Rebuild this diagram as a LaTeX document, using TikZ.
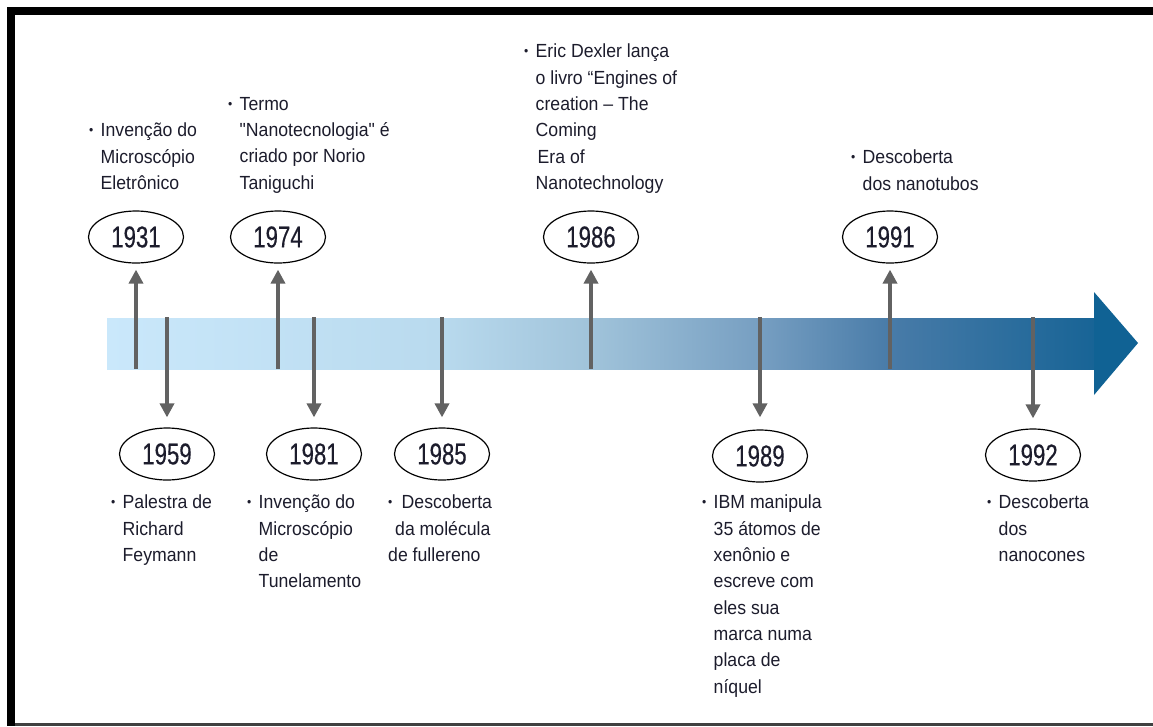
\documentclass[tikz,border=0pt]{standalone}
\usepackage{fontspec}
\setmainfont{Liberation Sans}
\newfontfamily\evtfont[FakeStretch=0.93]{Liberation Sans}
\newfontfamily\yrfont[FakeStretch=0.74,FakeBold=0.4]{Liberation Sans}
\usetikzlibrary{arrows.meta,shapes.geometric}
\definecolor{bandA}{RGB}{202,232,251}
\definecolor{bandB}{RGB}{185,218,238}
\definecolor{bandC}{RGB}{160,195,218}
\definecolor{bandD}{RGB}{118,158,193}
\definecolor{bandE}{RGB}{72,123,168}
\definecolor{bandF}{RGB}{24,100,150}
\definecolor{headblue}{RGB}{16,98,148}
\definecolor{arrgray}{RGB}{98,98,98}
\definecolor{txtdark}{RGB}{28,28,44}
\pgfdeclarehorizontalshading{bandshade}{100bp}{color(0bp)=(bandA); color(25bp)=(bandA); color(41.8bp)=(bandB); color(49.6bp)=(bandC); color(58.2bp)=(bandD); color(64.7bp)=(bandE); color(75bp)=(bandF); color(100bp)=(bandF)}
\newcommand{\bul}{\makebox[11.5pt][l]{\raisebox{2pt}{\fontsize{13}{13}\selectfont\textbullet}}}
\newcommand{\ind}{\hspace*{11.5pt}}

\begin{document}
\begin{tikzpicture}[x=1pt,y=-1pt,yr/.style={draw,ellipse,line width=1.2pt,minimum width=95pt,minimum height=52pt,inner sep=0pt,font=\yrfont\fontsize{30}{30}\selectfont,text=txtdark},evt/.style={anchor=north west,align=left,inner sep=0pt,font=\evtfont\fontsize{19}{26.3}\selectfont,text=txtdark},arr/.style={-{Triangle[width=14pt,length=14pt]},line width=3.5pt,arrgray}]
\useasboundingbox (0,0) rectangle (1153,726);
% frame
\fill[black] (7,7) rectangle (1153,15);
\fill[black] (7,7) rectangle (15,726);
\fill[black!75] (15,723) rectangle (1153,726);
% time band
\shade[shading=bandshade] (107,318) rectangle (1094,369);
\fill[headblue] (1094,292) -- (1138,343) -- (1094,395) -- cycle;
% years above
\node[yr] (y1931) at (136,237) {1931};
\node[yr] (y1974) at (278,237) {1974};
\node[yr] (y1986) at (591,237) {1986};
\node[yr] (y1991) at (890,237) {1991};
% years below
\node[yr] (y1959) at (167,454) {1959};
\node[yr] (y1981) at (314,454) {1981};
\node[yr] (y1985) at (442,454) {1985};
\node[yr] (y1989) at (760,456) {1989};
\node[yr] (y1992) at (1033,455) {1992};
% events
\node[evt] (e1931) at (89,123) {\bul Invenção do\\\ind Microscópio\\\ind Eletrônico};
\node[evt] (e1974) at (228,97) {\bul Termo\\\ind "Nanotecnologia" é\\\ind criado por Norio\\\ind Taniguchi};
\node[evt] (e1986) at (524,44) {\bul Eric Dexler lança\\\ind o livro “Engines of\\\ind creation – The\\\ind Coming\\\ind\hspace*{2pt}Era of\\\ind Nanotechnology};
\node[evt] (e1991) at (851,150) {\bul Descoberta\\\ind dos nanotubos};
\node[evt] (e1959) at (111,495) {\bul Palestra de\\\ind Richard\\\ind Feymann};
\node[evt] (e1981) at (247,495) {\bul Invenção do\\\ind Microscópio\\\ind de\\\ind Tunelamento};
\node[evt] (e1985) at (388,495) {\bul\hspace*{2pt}Descoberta\\\hspace*{7pt}da molécula\\de fullereno};
\node[evt] (e1989) at (702,495) {\bul IBM manipula\\\ind 35 átomos de\\\ind xenônio e\\\ind escreve com\\\ind eles sua\\\ind marca numa\\\ind placa de\\\ind níquel};
\node[evt] (e1992) at (987,495) {\bul Descoberta\\\ind dos\\\ind nanocones};
% arrow feet on the band
\coordinate (b1931) at (136,369);
\coordinate (b1974) at (278,369);
\coordinate (b1986) at (591,369);
\coordinate (b1991) at (890,369);
\coordinate (t1959) at (167,317);
\coordinate (t1981) at (314,317);
\coordinate (t1985) at (442,317);
\coordinate (t1989) at (760,317);
\coordinate (t1992) at (1033,317);
\draw[arr,shorten >=6pt] (b1931) -- (y1931);
\draw[arr,shorten >=6pt] (b1974) -- (y1974);
\draw[arr,shorten >=6pt] (b1986) -- (y1986);
\draw[arr,shorten >=6pt] (b1991) -- (y1991);
\draw[arr,shorten >=10pt] (t1959) -- (y1959);
\draw[arr,shorten >=10pt] (t1981) -- (y1981);
\draw[arr,shorten >=10pt] (t1985) -- (y1985);
\draw[arr,shorten >=12pt] (t1989) -- (y1989);
\draw[arr,shorten >=10pt] (t1992) -- (y1992);
\end{tikzpicture}
\end{document}
